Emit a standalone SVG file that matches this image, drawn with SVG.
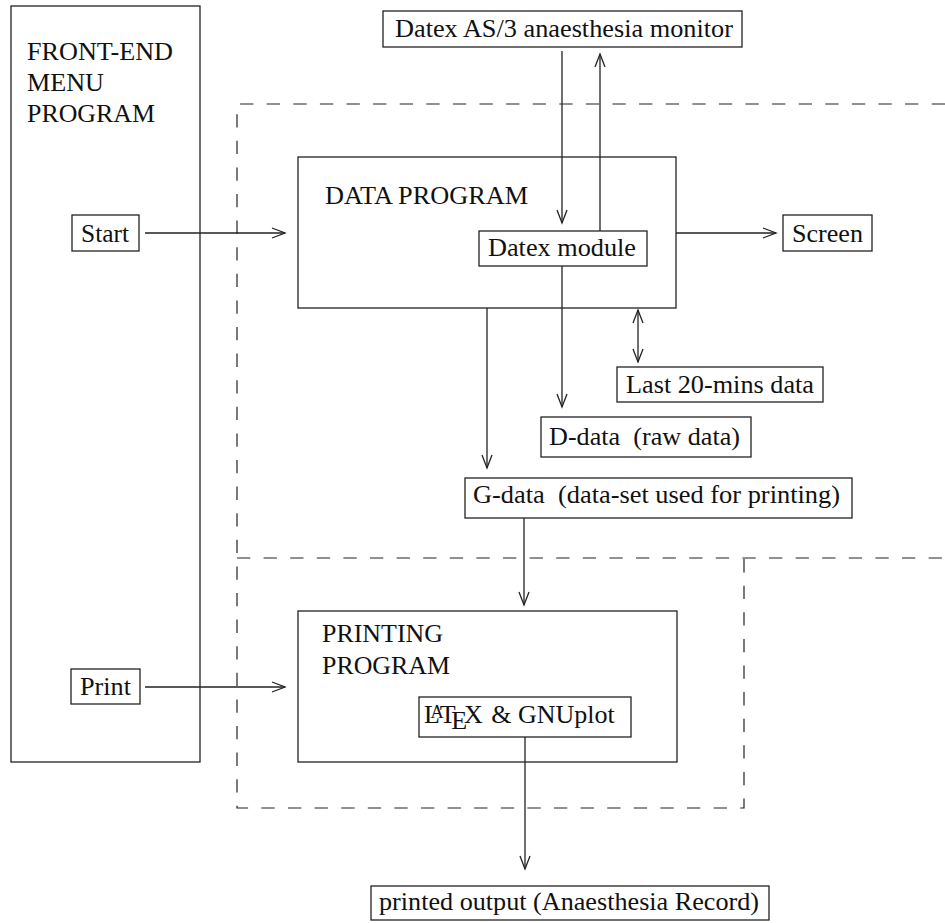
<svg xmlns="http://www.w3.org/2000/svg" width="945" height="923" viewBox="0 0 945 923">
<style>
.box{fill:none;stroke:#222;stroke-width:1.3}
.t{font-family:"Liberation Serif","Times New Roman",serif;font-size:26px;fill:#111}
.dash{fill:none;stroke:#222;stroke-width:1.2;stroke-dasharray:13.3 13.3}
.c{fill:none;stroke:#222;stroke-width:1.3;marker-end:url(#ah)}
</style>
<defs>
<marker id="ah" viewBox="-15 -7 17 14" refX="0" refY="0" markerWidth="17" markerHeight="14" markerUnits="userSpaceOnUse" orient="auto-start-reverse">
<path d="M-13,-5 L0,0 L-13,5" fill="none" stroke="#222" stroke-width="1.3"/>
</marker>
</defs>
<rect width="945" height="923" fill="#fff"/>

<g id="regions">
<path class="dash" d="M945,104 H237 V808 H744 V558"/>
<path class="dash" d="M237,558 H945"/>
</g>

<g id="frontend">
<rect class="box" x="11" y="6" width="189" height="756"/>
<text class="t" x="27" y="60" textLength="146" lengthAdjust="spacingAndGlyphs">FRONT-END</text>
<text class="t" x="27" y="91" textLength="77" lengthAdjust="spacingAndGlyphs">MENU</text>
<text class="t" x="27" y="122" textLength="128" lengthAdjust="spacingAndGlyphs">PROGRAM</text>
</g>
<g id="start">
<rect class="box" x="72" y="215" width="67" height="36"/>
<text class="t" x="81" y="242" textLength="48" lengthAdjust="spacingAndGlyphs">Start</text>
</g>
<g id="print">
<rect class="box" x="71" y="669" width="69" height="35"/>
<text class="t" x="80" y="695" textLength="51" lengthAdjust="spacingAndGlyphs">Print</text>
</g>
<g id="monitor">
<rect class="box" x="383" y="11" width="359" height="36"/>
<text class="t" x="395" y="37" textLength="338" lengthAdjust="spacingAndGlyphs">Datex AS/3 anaesthesia monitor</text>
</g>
<g id="dataprogram">
<rect class="box" x="298" y="157" width="378" height="151"/>
<text class="t" x="325" y="204" textLength="203" lengthAdjust="spacingAndGlyphs">DATA PROGRAM</text>
</g>
<g id="datexmodule">
<rect class="box" x="479" y="231" width="168" height="35"/>
<text class="t" x="488" y="256" textLength="148" lengthAdjust="spacingAndGlyphs">Datex module</text>
</g>
<g id="screen">
<rect class="box" x="783" y="215" width="89" height="36"/>
<text class="t" x="792" y="242" textLength="71" lengthAdjust="spacingAndGlyphs">Screen</text>
</g>
<g id="last20">
<rect class="box" x="617" y="367" width="206" height="35"/>
<text class="t" x="626" y="393" textLength="188" lengthAdjust="spacingAndGlyphs">Last 20-mins data</text>
</g>
<g id="ddata">
<rect class="box" x="541" y="417" width="210" height="40"/>
<text class="t" x="549" y="445" textLength="191" lengthAdjust="spacingAndGlyphs" xml:space="preserve">D-data  (raw data)</text>
</g>
<g id="gdata">
<rect class="box" x="465" y="478" width="387" height="40"/>
<text class="t" x="473" y="503" textLength="367" lengthAdjust="spacingAndGlyphs" xml:space="preserve">G-data  (data-set used for printing)</text>
</g>
<g id="printingprogram">
<rect class="box" x="298" y="611" width="379" height="151"/>
<text class="t" x="322" y="642" textLength="121" lengthAdjust="spacingAndGlyphs">PRINTING</text>
<text class="t" x="322" y="674" textLength="128" lengthAdjust="spacingAndGlyphs">PROGRAM</text>
</g>
<g id="latex">
<rect class="box" x="419" y="697" width="212" height="40"/>
<text class="t" x="424" y="723">L<tspan dx="-9.4" dy="-5.2" font-size="18.2">A</tspan><tspan dx="-3.9" dy="5.2">T</tspan><tspan dx="-4.3" dy="5.8">E</tspan><tspan dx="-3.2" dy="-5.8">X</tspan><tspan dx="2"> &amp; GNUplot</tspan></text>
</g>
<g id="output">
<rect class="box" x="371" y="886" width="398" height="34"/>
<text class="t" x="379" y="910" textLength="380" lengthAdjust="spacingAndGlyphs">printed output (Anaesthesia Record)</text>
</g>

<g id="connectors">
<line class="c" x1="145" y1="233" x2="285" y2="233"/>
<line class="c" x1="145" y1="687" x2="285" y2="687"/>
<line class="c" x1="562" y1="51" x2="562" y2="223"/>
<line class="c" x1="600" y1="231" x2="600" y2="54"/>
<line class="c" x1="676" y1="233" x2="776" y2="233"/>
<line class="c" x1="562" y1="266" x2="562" y2="407"/>
<line class="c" x1="487" y1="308" x2="487" y2="468"/>
<line class="c" x1="638" y1="310" x2="638" y2="362" style="marker-start:url(#ah)"/>
<line class="c" x1="524" y1="518" x2="524" y2="605"/>
<line class="c" x1="525" y1="737" x2="525" y2="869"/>
</g>
</svg>
